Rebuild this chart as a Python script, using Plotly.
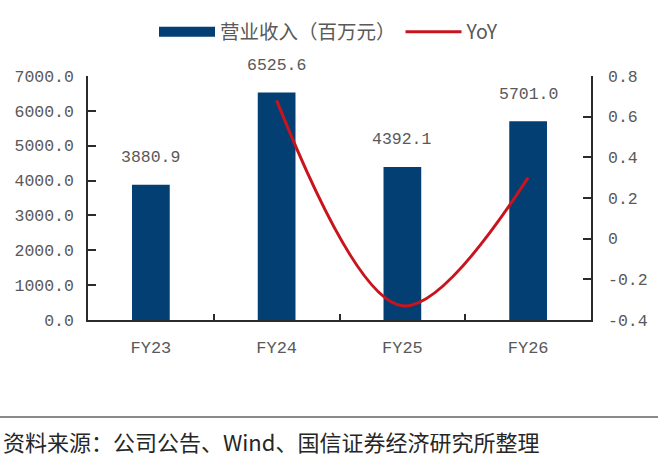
import plotly.graph_objects as go

# ---- data ----
years = ["FY23", "FY24", "FY25", "FY26"]
revenue = [3880.9, 6525.6, 4392.1, 5701.0]
yoy = [None, 0.68, -0.33, 0.30]
revenue_labels = ["3880.9", "6525.6", "4392.1", "5701.0"]
left_ticks = [0, 1000, 2000, 3000, 4000, 5000, 6000, 7000]
right_ticks = [-0.4, -0.2, 0, 0.2, 0.4, 0.6, 0.8]
right_ticklabels = ["-0.4", "-0.2", "0", "0.2", "0.4", "0.6", "0.8"]
rev_name = "营业收入（百万元）"
yoy_name = "YoY"
source_text = "资料来源：公司公告、Wind、国信证券经济研究所整理"

BAR = "#033F73"
RED = "#C9141E"
GRAY = "#595959"
AXIS = "#2b2b2b"
FONT = "Liberation Mono, Noto Sans CJK SC, sans-serif"
CJK = "Noto Sans CJK SC, sans-serif"

fig = go.Figure()
fig.add_trace(go.Bar(x=years, y=revenue, marker=dict(color=BAR, line=dict(width=0)),
                     width=0.3, showlegend=False, yaxis="y", hoverinfo="skip"))
fig.add_trace(go.Scatter(x=[None], y=[None], mode="lines", name=rev_name,
                         line=dict(color=BAR, width=10), yaxis="y"))
fig.add_trace(go.Scatter(x=years, y=yoy, mode="lines", name=yoy_name,
                         line=dict(color=RED, width=3, shape="spline", smoothing=1),
                         yaxis="y2", connectgaps=False))

for cat, val, lab in zip(years, revenue, revenue_labels):
    fig.add_annotation(x=cat, y=val, xref="x", yref="y", text=lab, showarrow=False,
                       yanchor="middle", yshift=27, font=dict(family=FONT, size=16.5, color=GRAY))

fig.add_annotation(xref="paper", yref="paper", x=-0.173, y=-0.496, xanchor="left", yanchor="middle",
                   text=source_text, showarrow=False, font=dict(family=CJK, size=22, color="#262626"))

fig.add_shape(type="line", xref="paper", yref="paper", x0=-0.18, x1=1.14, y0=-0.3975, y1=-0.3975,
              line=dict(color="#8a8a8a", width=2))

fig.update_layout(
    width=658, height=456,
    margin=dict(l=88, r=67, t=76, b=136, pad=0),
    paper_bgcolor="white", plot_bgcolor="white",
    font=dict(family=FONT, size=16.5, color=GRAY),
    bargap=0.7,
    legend=dict(orientation="h", xref="container", yref="container", x=0.5, xanchor="center",
                y=1 - 32 / 456, yanchor="middle", font=dict(family=CJK, size=19.5, color=GRAY),
                itemwidth=56, bgcolor="rgba(0,0,0,0)"),
    xaxis=dict(type="category", showline=True, linecolor=AXIS, linewidth=1.5, mirror=False,
               ticks="inside", tickson="boundaries", ticklen=6, tickcolor=AXIS, tickwidth=1.5,
               showgrid=False, zeroline=False, ticklabelstandoff=11, automargin=False,
               tickfont=dict(family=FONT, size=17, color=GRAY)),
    yaxis=dict(range=[0, 7000], tickvals=left_ticks, tickformat=".1f", showline=True,
               linecolor=AXIS, linewidth=1.5, ticks="inside", ticklen=8, tickcolor=AXIS, tickwidth=1.5,
               showgrid=False, zeroline=False, ticklabelstandoff=9, automargin=False,
               tickfont=dict(family=FONT, size=16.5, color=GRAY)),
    yaxis2=dict(range=[-0.4, 0.8], tickvals=right_ticks, ticktext=right_ticklabels, overlaying="y",
                side="right", showline=True, linecolor=AXIS, linewidth=1.5, ticks="inside", ticklen=8,
                tickcolor=AXIS, tickwidth=1.5, showgrid=False, zeroline=False, ticklabelstandoff=12,
                automargin=False, tickfont=dict(family=FONT, size=16.5, color=GRAY)),
)

fig.write_html("out.html", config={"displayModeBar": False},
               post_script="document.body.style.margin='0px';document.body.style.overflow='hidden';")
